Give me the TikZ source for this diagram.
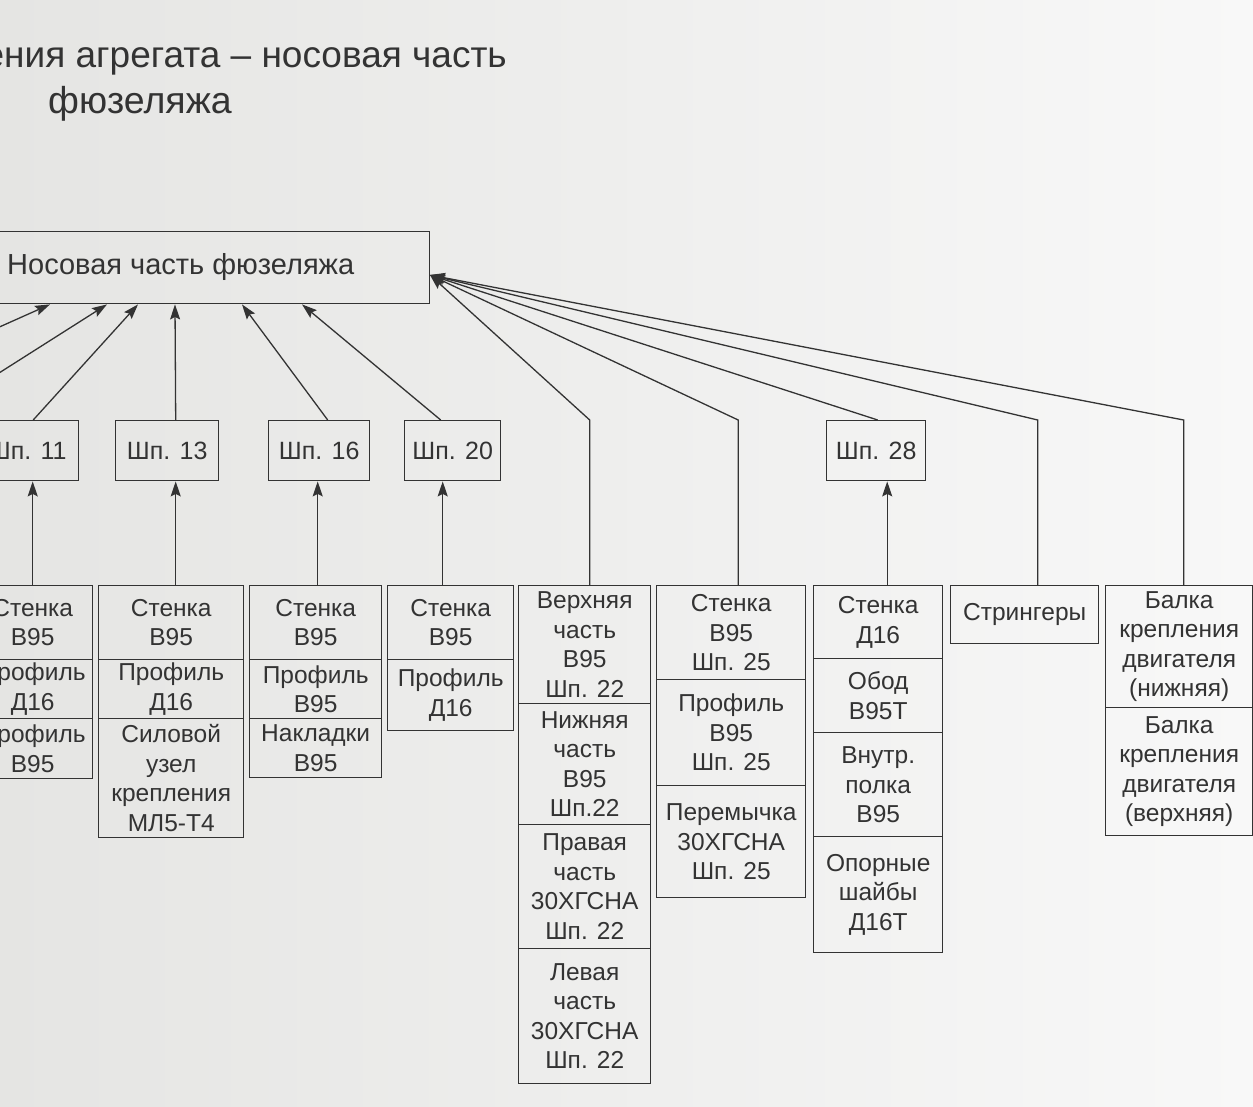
\documentclass[tikz,border=0pt]{standalone}
\usepackage{fontspec}
\setmainfont{Liberation Sans}
\usetikzlibrary{arrows.meta}
\definecolor{ink}{HTML}{333333}
\definecolor{bgl}{HTML}{E5E5E3}
\definecolor{bgr}{HTML}{F8F8F8}
\begin{document}
\begin{tikzpicture}[x=1pt,y=-1pt,
  every node/.style={text=ink},
  box/.style={draw=ink, line width=1.4pt, rectangle, inner sep=0pt, anchor=north west, align=center,
    font=\fontsize{24.5}{29.5}\selectfont},
  shp/.style={draw=ink, line width=1.4pt, rectangle, inner sep=0pt, anchor=north west,
    minimum height=60pt, font=\fontsize{25}{30}\selectfont},
  link/.style={draw=ink, line width=1.3pt},
  arr/.style={link, -{Stealth[length=15pt,width=10pt,inset=2.5pt]}},
]
\useasboundingbox (0,0) rectangle (1253,1106);
\clip (0,0) rectangle (1253,1106);
\fill[left color=bgl, right color=bgr] (0,0) rectangle (1253,1106);

% title (cut off at the left edge, as in the reference)
\node[anchor=base east, inner sep=0pt, font=\fontsize{37}{44}\selectfont] (title1) at (507,67) {ения агрегата – носовая часть};
\node[anchor=base west, inner sep=0pt, font=\fontsize{37.5}{44}\selectfont] (title2) at (48,113) {фюзеляжа};

% main box
\node[draw=ink, line width=1.4pt, rectangle, inner sep=0pt, anchor=north west,
  minimum width=469pt, minimum height=72pt] (main) at (-40,231) {};
\node[anchor=west, inner sep=0pt, font=\fontsize{29}{33}\selectfont] (mainlabel) at (7,267) {Носовая часть фюзеляжа};
\coordinate (tip) at (430,275);

% frame boxes
\node[shp, minimum width=103pt] (shp11) at (-25,420) {Шп. 11};
\node[shp, minimum width=103pt] (shp13) at (115,420) {Шп. 13};
\node[shp, minimum width=101pt] (shp16) at (268,420) {Шп. 16};
\node[shp, minimum width=96pt]  (shp20) at (404,420) {Шп. 20};
\node[shp, minimum width=99pt]  (shp28) at (826,420) {Шп. 28};

% column 1
\node[box, minimum width=120pt, minimum height=74pt] (c1a) at (-28,585) {Стенка\\В95};
\node[box, minimum width=120pt, minimum height=59pt] (c1b) at (-28,659) {Профиль\\Д16};
\node[box, minimum width=120pt, minimum height=60pt] (c1c) at (-28,718) {Профиль\\В95};
% column 2
\node[box, minimum width=145pt, minimum height=74pt] (c2a) at (98,585) {Стенка\\В95};
\node[box, minimum width=145pt, minimum height=59pt] (c2b) at (98,659) {Профиль\\Д16};
\node[box, minimum width=145pt, minimum height=119pt] (c2c) at (98,718) {Силовой\\узел\\крепления\\МЛ5-Т4};
% column 3
\node[box, minimum width=132pt, minimum height=74pt] (c3a) at (249,585) {Стенка\\В95};
\node[box, minimum width=132pt, minimum height=59pt] (c3b) at (249,659) {Профиль\\В95};
\node[box, minimum width=132pt, minimum height=59pt] (c3c) at (249,718) {Накладки\\В95};
% column 4
\node[box, minimum width=126pt, minimum height=74pt] (c4a) at (387,585) {Стенка\\В95};
\node[box, minimum width=126pt, minimum height=71pt] (c4b) at (387,659) {Профиль\\Д16};
% column 5
\node[box, minimum width=132pt, minimum height=118pt] (c5a) at (518,585) {Верхняя\\часть\\В95\\Шп. 22};
\node[box, minimum width=132pt, minimum height=121pt] (c5b) at (518,703) {Нижняя\\часть\\В95\\Шп.22};
\node[box, minimum width=132pt, minimum height=124pt] (c5c) at (518,824) {Правая\\часть\\30ХГСНА\\Шп. 22};
\node[box, minimum width=132pt, minimum height=135pt] (c5d) at (518,948) {Левая\\часть\\30ХГСНА\\Шп. 22};
% column 6
\node[box, minimum width=149pt, minimum height=94pt] (c6a) at (656,585) {Стенка\\В95\\Шп. 25};
\node[box, minimum width=149pt, minimum height=106pt] (c6b) at (656,679) {Профиль\\В95\\Шп. 25};
\node[box, minimum width=149pt, minimum height=112pt] (c6c) at (656,785) {Перемычка\\30ХГСНА\\Шп. 25};
% column 7
\node[box, minimum width=129pt, minimum height=73pt] (c7a) at (813,585) {Стенка\\Д16};
\node[box, minimum width=129pt, minimum height=74pt] (c7b) at (813,658) {Обод\\В95Т};
\node[box, minimum width=129pt, minimum height=104pt] (c7c) at (813,732) {Внутр.\\полка\\В95};
\node[box, minimum width=129pt, minimum height=116pt] (c7d) at (813,836) {Опорные\\шайбы\\Д16Т};
% stringers
\node[box, minimum width=148pt, minimum height=58pt] (str) at (950,585) {Стрингеры};
% engine beams
\node[box, minimum width=147pt, minimum height=122pt] (bk1) at (1105,585) {Балка\\крепления\\двигателя\\(нижняя)};
\node[box, minimum width=147pt, minimum height=128pt] (bk2) at (1105,707) {Балка\\крепления\\двигателя\\(верхняя)};

% connectors: parts -> frames
\draw[arr] (c1a.north) coordinate (v1) -- (v1 |- shp11.south);
\draw[arr] (c2a.north) ++(4.5,0) coordinate (v2) -- (v2 |- shp13.south);
\draw[arr] (c3a.north) ++(2,0) coordinate (v3) -- (v3 |- shp16.south);
\draw[arr] (c4a.north) ++(-8,0) coordinate (v4) -- (v4 |- shp20.south);
\draw[arr] (c7a.north) ++(9,0) coordinate (v7) -- (v7 |- shp28.south);

% connectors: frames -> main
\coordinate (offA) at (-209,420);
\coordinate (offB) at (-75,420);
\draw[arr] (offA) -- ([xshift=90pt]main.south west);
\draw[arr] (offB) -- ([xshift=147pt]main.south west);
\draw[arr] (shp11.north) ++(6,0) -- ([xshift=178pt]main.south west);
\draw[arr] (shp13.north) ++(8.5,0) -- ([xshift=215pt]main.south west);
\draw[arr] (shp16.north) ++(8.5,0) -- ([xshift=282pt]main.south west);
\draw[arr] (shp20.north) ++(-12,0) -- ([xshift=342pt]main.south west);

% right-hand connectors converging on the main box
\draw[arr] (c5a.north) ++(5,0) coordinate (u5) -- (u5 |- shp28.north) -- (tip);
\draw[arr] (c6a.north) ++(7,0) coordinate (u6) -- (u6 |- shp28.north) -- (tip);
\draw[arr] (shp28.north) ++(1.5,0) -- (tip);
\draw[arr] (str.north) ++(13,0) coordinate (u8) -- (u8 |- shp28.north) -- (tip);
\draw[arr] (bk1.north) ++(4.5,0) coordinate (u9) -- (u9 |- shp28.north) -- (tip);
\end{tikzpicture}
\end{document}
